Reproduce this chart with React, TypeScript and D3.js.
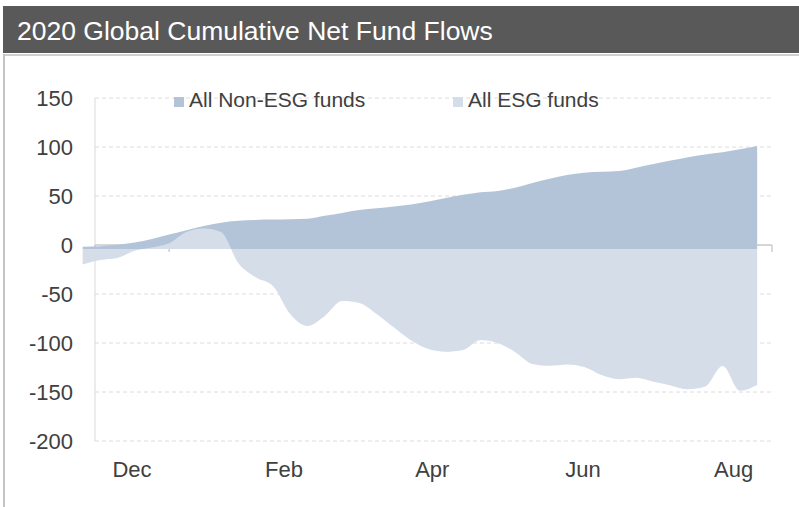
import React from "react";
import * as d3 from "d3";

// ---- data ----
const WEEKS: string[] = [
  "2019-11-12", "2019-11-19", "2019-11-26",
  "2019-12-03", "2019-12-10", "2019-12-17", "2019-12-24", "2019-12-31",
  "2020-01-07", "2020-01-14", "2020-01-21", "2020-01-28",
  "2020-02-04", "2020-02-11", "2020-02-18", "2020-02-25",
  "2020-03-03", "2020-03-10", "2020-03-17", "2020-03-24", "2020-03-31",
  "2020-04-07", "2020-04-14", "2020-04-21", "2020-04-28",
  "2020-05-05", "2020-05-12", "2020-05-19", "2020-05-26",
  "2020-06-02", "2020-06-09", "2020-06-16", "2020-06-23", "2020-06-30",
  "2020-07-07", "2020-07-14", "2020-07-21", "2020-07-28",
  "2020-08-04", "2020-08-11",
];

const NON_ESG: number[] = [
  -1.7, -1.2, 0.2, 2.6, 6.2, 10.7, 15.1, 19.3, 22.7, 24.8,
  25.6, 25.9, 26.2, 26.7, 29.8, 32.7, 35.6, 37.4, 39.2, 41.3,
  44.3, 47.9, 51.2, 53.8, 55.2, 58.5, 63.3, 67.6, 71.4, 73.8,
  74.7, 75.4, 78.9, 82.7, 86.1, 89.6, 92.4, 94.6, 97.7, 101,
];

const ESG: number[] = [
  -19.9, -15.3, -13.3, -5.9, -2.6, 1.7, 13.3, 16.8, 13.3, -18.4,
  -33, -41.8, -70.4, -82.7, -72.4, -57.2, -59.2, -70.4, -84.2, -97.4,
  -106.1, -108.9, -107.1, -96.9, -100, -109.2, -121.4, -123.3, -122, -124.5,
  -132.7, -137, -135.5, -139.5, -143.3, -147.2, -144.4, -123.5, -148.7, -142.9,
];

const AREA_BASE = -4;
const Y_TICKS: number[] = [150, 100, 50, 0, -50, -100, -150, -200];
const X_DOMAIN: string[] = ["2019-11-17", "2020-08-17"];
const LABEL_MONTHS: string[] = ["2019-12-17", "2020-02-17", "2020-04-17", "2020-06-17", "2020-08-17"];
const SERIES_NAMES: string[] = ["All Non-ESG funds", "All ESG funds"];
const TITLE = "2020 Global Cumulative Net Fund Flows";

// ---- styles ----
const W = 799;
const H = 507;
const DARK = "#b3c4d9";
const LIGHT = "#d5dde9";
const FONT = "'Liberation Sans', Arial, Helvetica, sans-serif";
const TEXT = "#404040";

export default function App() {
  const parse = d3.timeParse("%Y-%m-%d");
  const dates = WEEKS.map((s) => parse(s) as Date);
  const dom = X_DOMAIN.map((s) => parse(s) as Date);

  const x = d3.scaleTime().domain(dom).range([95, 772]);
  const y = d3.scaleLinear().domain([-200, 150]).range([441, 98]);

  const area = (vals: number[]) =>
    d3
      .area<number>()
      .x((_, i) => x(dates[i]))
      .y0(y(AREA_BASE))
      .y1((v) => y(v))
      .curve(d3.curveMonotoneX)(vals) || "";

  const tickDates = d3.timeMonth
    .range(d3.timeMonth.floor(dom[0]), d3.timeMonth.offset(dom[1], 1))
    .map((m) => d3.timeDay.offset(m, 16));

  const fmt = d3.timeFormat("%b");
  const labels = LABEL_MONTHS.map((s) => {
    const end = parse(s) as Date;
    const start = d3.timeMonth.offset(end, -1);
    const mid = new Date((start.getTime() + end.getTime()) / 2);
    return { x: (x(start) + x(end)) / 2, text: fmt(mid) };
  });

  const y0 = y(0);

  return (
    <svg
      width={W}
      height={H}
      style={{ position: "absolute", left: 0, top: 0, background: "#fff" }}
      fontFamily={FONT}
    >
      {/* title bar */}
      <rect x={3} y={6} width={W - 3} height={47} fill="#595959" />
      <text x={17} y={40} fill="#fff" fontSize={26.5}>
        {TITLE}
      </text>
      {/* panel border */}
      <line x1={3} x2={W} y1={55} y2={55} stroke="#d0d0d0" strokeWidth={2} />
      <line x1={4} x2={4} y1={54} y2={H} stroke="#c4c4c4" strokeWidth={2} />

      {/* gridlines */}
      {Y_TICKS.filter((t) => t !== 0).map((t) => (
        <line
          key={t}
          x1={95}
          x2={772}
          y1={y(t)}
          y2={y(t)}
          stroke="#dcdcdc"
          strokeDasharray="4,3"
        />
      ))}
      {/* y axis line */}
      <line x1={95} x2={95} y1={y(150)} y2={y(-200)} stroke="#d9d9d9" />
      {/* x axis line and ticks */}
      <line x1={95} x2={772} y1={y0} y2={y0} stroke="#c8c8c8" strokeWidth={1.3} />
      {tickDates.map((d, i) => (
        <line key={i} x1={x(d)} x2={x(d)} y1={y0} y2={y0 + 7} stroke="#c8c8c8" strokeWidth={1.3} />
      ))}

      {/* areas */}
      <path d={area(NON_ESG)} fill={DARK} />
      <path d={area(ESG)} fill={LIGHT} />

      {/* y labels */}
      {Y_TICKS.map((t) => (
        <text
          key={t}
          x={73}
          y={y(t)}
          dy="0.36em"
          textAnchor="end"
          fontSize={22}
          fill={TEXT}
        >
          {t}
        </text>
      ))}

      {/* x labels */}
      {labels.map((l) => (
        <text key={l.text} x={l.x} y={477} textAnchor="middle" fontSize={22} fill={TEXT}>
          {l.text}
        </text>
      ))}

      {/* legend */}
      <rect x={174} y={97} width={10} height={10} fill={DARK} />
      <text x={189} y={107} fontSize={21} fill={TEXT}>
        {SERIES_NAMES[0]}
      </text>
      <rect x={453} y={97} width={10} height={10} fill={LIGHT} />
      <text x={468} y={107} fontSize={21} fill={TEXT}>
        {SERIES_NAMES[1]}
      </text>
    </svg>
  );
}
